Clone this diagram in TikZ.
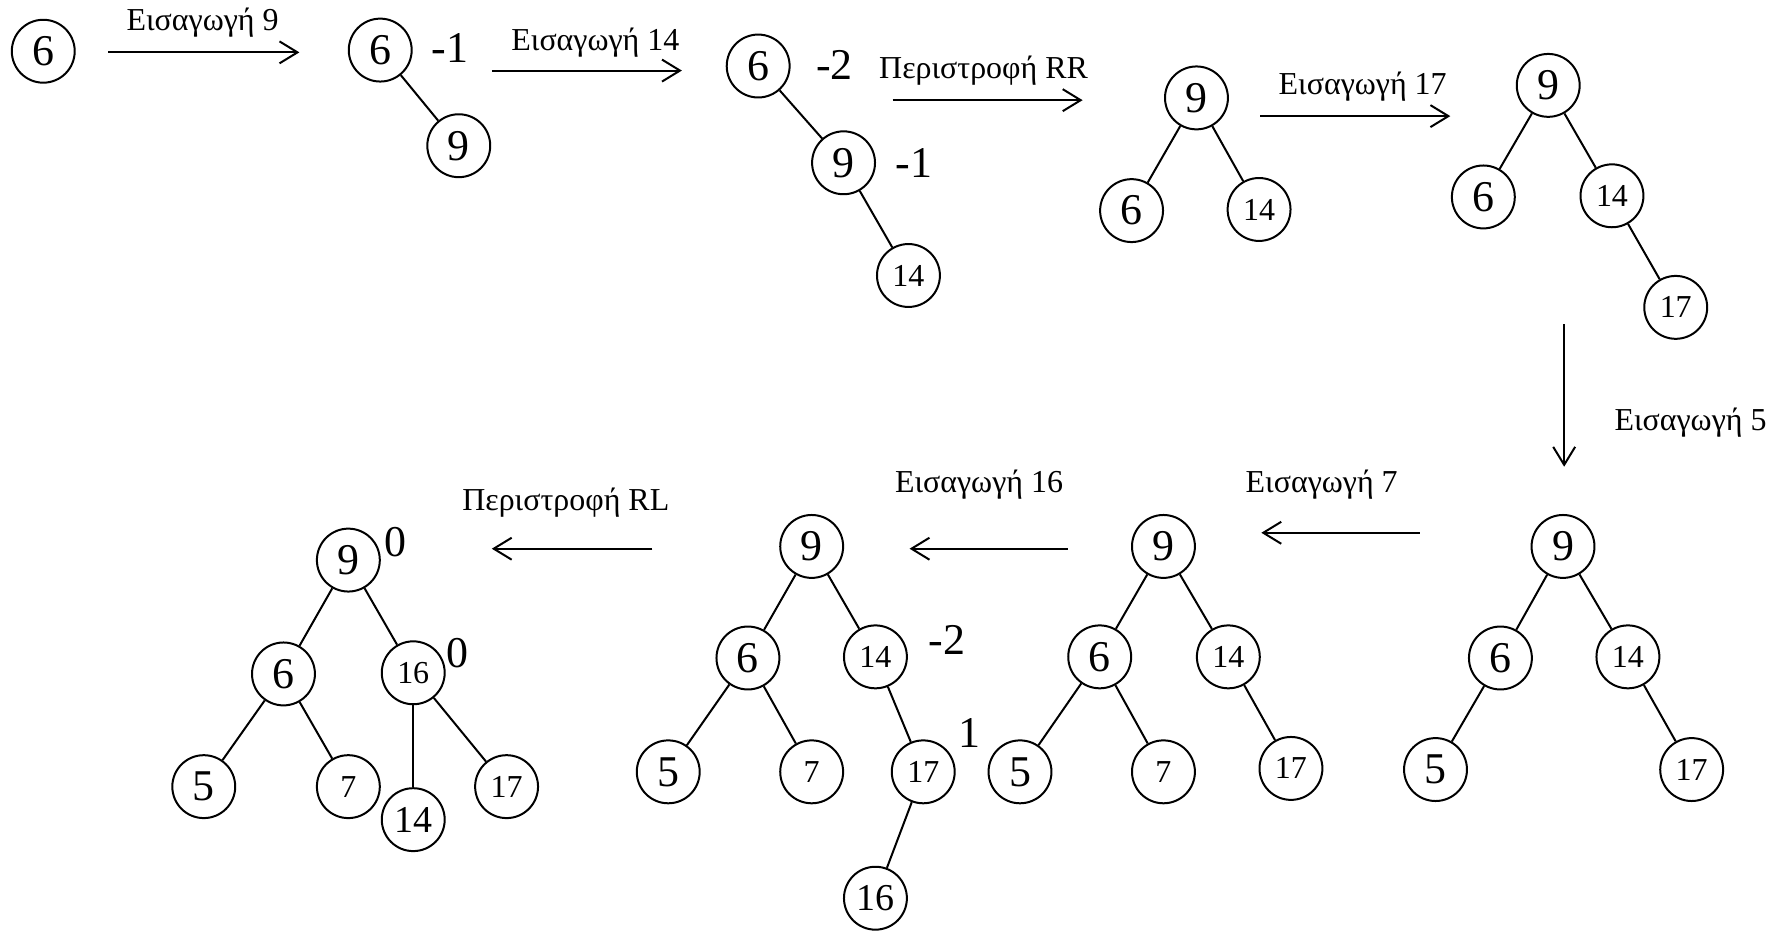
\documentclass[tikz,border=0pt]{standalone}
\usepackage{fontspec}
\setmainfont{Liberation Serif}
\usetikzlibrary{arrows.meta}
\tikzset{
  key/.style={circle,draw,line width=1pt,minimum size=31.5pt,inner sep=0pt,font=\fontsize{22}{24}\selectfont},
  keysm/.style={key,font=\fontsize{16}{18}\selectfont},
  keymd/.style={key,font=\fontsize{19}{21}\selectfont},
  bal/.style={inner sep=0pt,font=\fontsize{22}{24}\selectfont},
  op/.style={anchor=base,inner sep=0pt,font=\fontsize{16}{18}\selectfont},
  edge/.style={line width=1pt},
  move/.style={line width=1pt,-{Straight Barb[length=9pt,width=11pt]}}
}
\begin{document}
\begin{tikzpicture}[x=0.57pt,y=-0.57pt]
\useasboundingbox (0,0) rectangle (1568,820);

\node[key] (a6) at (38,45) {6};

\node[key] (b6) at (334,44) {6};
\node[key] (b9) at (403,128) {9};
\node[bal] (bb6) at (395,42) {-1};
\draw[edge] (b6) -- (b9);

\node[key] (c6) at (666,58) {6};
\node[key] (c9) at (741,143) {9};
\node[keysm] (c14) at (798,242) {14};
\node[bal] (cb6) at (733,57) {-2};
\node[bal] (cb9) at (803,143) {-1};
\draw[edge] (c6) -- (c9);
\draw[edge] (c9) -- (c14);

\node[key] (d9) at (1051,86) {9};
\node[key] (d6) at (994,185) {6};
\node[keysm] (d14) at (1106,184) {14};
\draw[edge] (d9) -- (d6);
\draw[edge] (d9) -- (d14);

\node[key] (e9) at (1360,75) {9};
\node[key] (e6) at (1303,173) {6};
\node[keysm] (e14) at (1416,172) {14};
\node[keysm] (e17) at (1472,270) {17};
\draw[edge] (e9) -- (e6);
\draw[edge] (e9) -- (e14);
\draw[edge] (e14) -- (e17);

\node[key] (f9) at (1373,480) {9};
\node[key] (f6) at (1318,578) {6};
\node[keysm] (f14) at (1430,577) {14};
\node[key] (f5) at (1261,676) {5};
\node[keysm] (f17) at (1486,676) {17};
\draw[edge] (f9) -- (f6);
\draw[edge] (f9) -- (f14);
\draw[edge] (f6) -- (f5);
\draw[edge] (f14) -- (f17);

\node[key] (g9) at (1022,480) {9};
\node[key] (g6) at (966,577) {6};
\node[keysm] (g14) at (1079,577) {14};
\node[key] (g5) at (896,678) {5};
\node[keysm] (g7) at (1022,678) {7};
\node[keysm] (g17) at (1134,675) {17};
\draw[edge] (g9) -- (g6);
\draw[edge] (g9) -- (g14);
\draw[edge] (g6) -- (g5);
\draw[edge] (g6) -- (g7);
\draw[edge] (g14) -- (g17);

\node[key] (h9) at (713,480) {9};
\node[key] (h6) at (657,578) {6};
\node[keysm] (h14) at (769,577) {14};
\node[key] (h5) at (587,678) {5};
\node[keysm] (h7) at (713,678) {7};
\node[keysm] (h17) at (811,678) {17};
\node[keymd] (h16) at (769,789) {16};
\node[bal] (hb14) at (832,562) {-2};
\node[bal] (hb17) at (852,644) {1};
\draw[edge] (h9) -- (h6);
\draw[edge] (h9) -- (h14);
\draw[edge] (h6) -- (h5);
\draw[edge] (h6) -- (h7);
\draw[edge] (h14) -- (h17);
\draw[edge] (h17) -- (h16);

\node[key] (i9) at (306,492) {9};
\node[key] (i6) at (249,592) {6};
\node[keysm] (i16) at (363,591) {16};
\node[key] (i5) at (179,691) {5};
\node[keysm] (i7) at (306,691) {7};
\node[keymd] (i14) at (363,720) {14};
\node[keysm] (i17) at (445,691) {17};
\node[bal] (ib9) at (347,476) {0};
\node[bal] (ib16) at (402,574) {0};
\draw[edge] (i9) -- (i6);
\draw[edge] (i9) -- (i16);
\draw[edge] (i6) -- (i5);
\draw[edge] (i6) -- (i7);
\draw[edge] (i16) -- (i14);
\draw[edge] (i16) -- (i17);

\coordinate (m1s) at (95,46);    \coordinate (m1e) at (263,46);
\coordinate (m2s) at (432,62);   \coordinate (m2e) at (599,62);
\coordinate (m3s) at (784,88);   \coordinate (m3e) at (951,88);
\coordinate (m4s) at (1107,102); \coordinate (m4e) at (1274,102);
\coordinate (m5s) at (1374,285); \coordinate (m5e) at (1374,410);
\coordinate (m6s) at (1247,468); \coordinate (m6e) at (1108,468);
\coordinate (m7s) at (938,482);  \coordinate (m7e) at (799,482);
\coordinate (m8s) at (573,482);  \coordinate (m8e) at (432,482);
\draw[move] (m1s) -- (m1e);
\draw[move] (m2s) -- (m2e);
\draw[move] (m3s) -- (m3e);
\draw[move] (m4s) -- (m4e);
\draw[move] (m5s) -- (m5e);
\draw[move] (m6s) -- (m6e);
\draw[move] (m7s) -- (m7e);
\draw[move] (m8s) -- (m8e);

\node[op] (t1) at (178,27)   {Εισαγωγή 9};
\node[op] (t2) at (523,44)   {Εισαγωγή 14};
\node[op] (t3) at (864,69)   {Περιστροφή RR};
\node[op] (t4) at (1197,83)  {Εισαγωγή 17};
\node[op] (t5) at (1485,378) {Εισαγωγή 5};
\node[op] (t6) at (1161,433) {Εισαγωγή 7};
\node[op] (t7) at (860,433)  {Εισαγωγή 16};
\node[op] (t8) at (497,448)  {Περιστροφή RL};
\end{tikzpicture}
\end{document}
